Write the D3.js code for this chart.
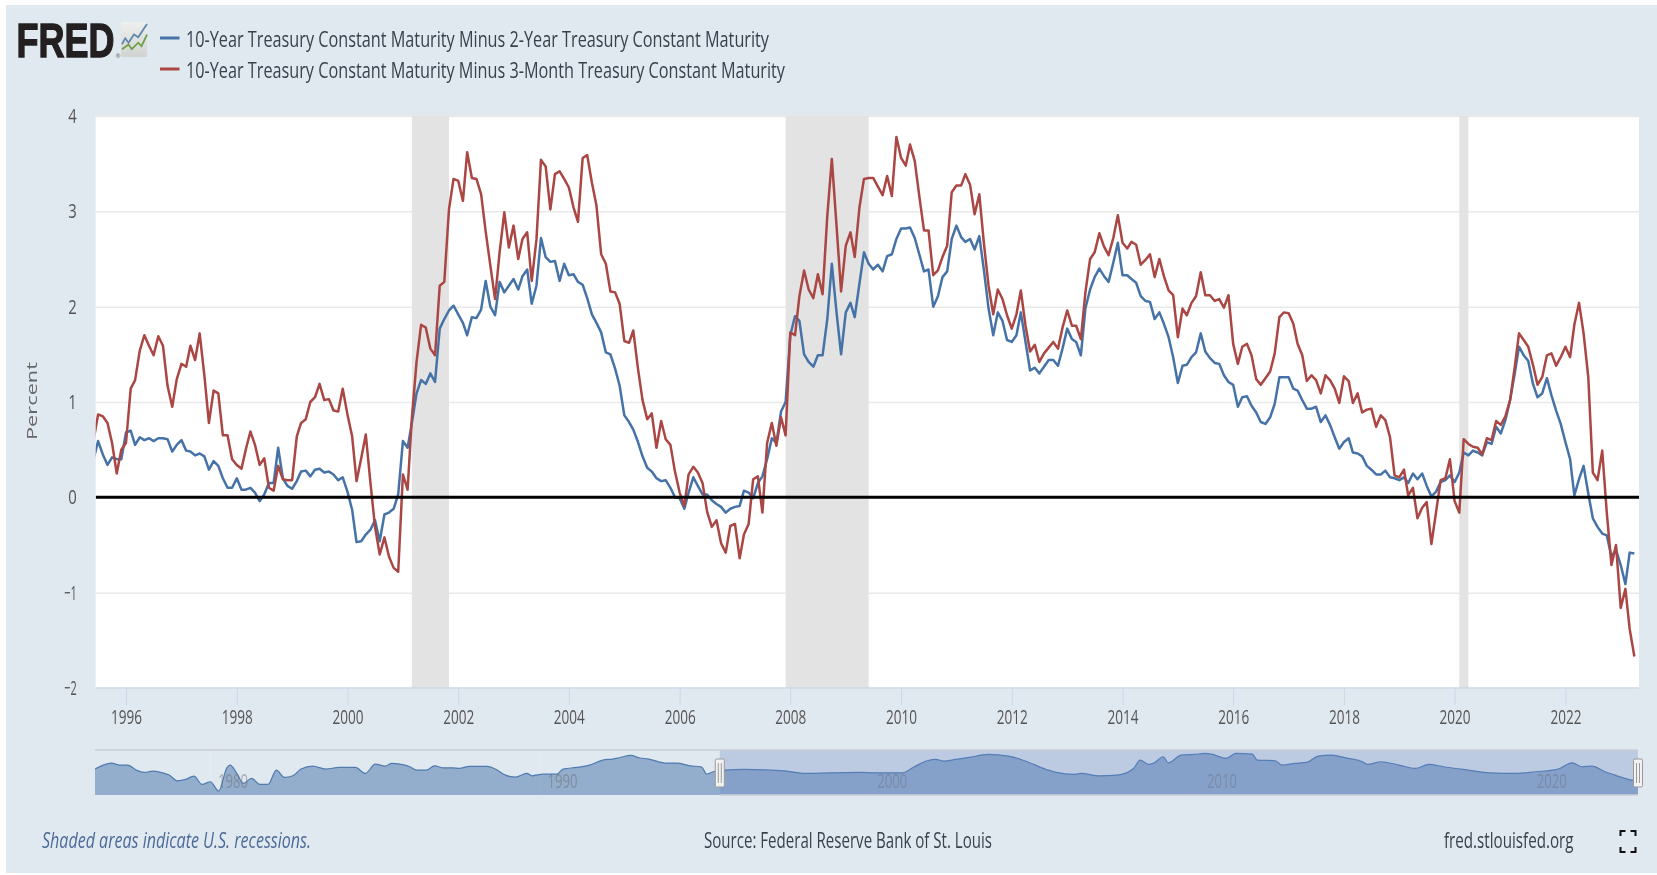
<!DOCTYPE html>
<html lang="en">
<head>
<title>FRED - 10-Year Treasury spreads</title>
<meta charset="utf-8">
<script src="https://d3js.org/d3.v7.min.js"></script>
<style type="text/css">
  html, body { margin: 0; padding: 0; background: #fff; overflow: hidden; }
  text { font-family: 'Open Sans', sans-serif; }
  /* the reference is a soft, upscaled screenshot */
  svg { filter: blur(.45px); }
</style>
</head>
<body>
<div id="chart"></div>
<script>

/* Data */
/* ========================== */

// Monthly, June 1995 to April 2023. One row per calendar year
var spread2y = [
  .40,.59,.45,.34,.42,.40,.40,
  .68,.70,.55,.63,.60,.62,.59,.62,.62,.61,.48,.55,
  .60,.49,.48,.44,.46,.43,.29,.38,.33,.20,.10,.10,
  .20,.08,.08,.10,.05,-.04,.03,.15,.15,.52,.20,.12,
  .09,.17,.27,.28,.22,.29,.30,.26,.27,.24,.18,.21,
  .06,-.13,-.47,-.46,-.39,-.34,-.24,-.46,-.18,-.16,-.12,.03,
  .59,.52,.78,1.09,1.23,1.19,1.30,1.21,1.77,1.87,1.96,2.01,
  1.92,1.83,1.70,1.89,1.88,1.97,2.27,2.00,1.91,2.26,2.15,2.22,
  2.29,2.18,2.32,2.39,2.03,2.22,2.72,2.52,2.47,2.48,2.27,2.45,
  2.33,2.34,2.26,2.23,2.09,1.92,1.83,1.73,1.52,1.50,1.35,1.17,
  .86,.79,.71,.58,.43,.31,.27,.20,.17,.18,.10,.00,
  -.01,-.12,.05,.21,.12,.03,.03,-.03,-.07,-.10,-.16,-.12,
  -.10,-.09,.07,.05,-.01,.15,.22,.40,.62,.57,.90,1.00,
  1.70,1.90,1.85,1.50,1.42,1.37,1.49,1.49,1.87,2.45,1.94,1.50,
  1.94,2.04,1.89,2.24,2.57,2.45,2.39,2.44,2.37,2.53,2.55,2.71,
  2.82,2.82,2.83,2.72,2.55,2.37,2.39,2.00,2.11,2.31,2.37,2.71,
  2.85,2.73,2.68,2.71,2.60,2.74,2.39,1.98,1.70,1.94,1.85,1.65,
  1.63,1.70,1.94,1.63,1.33,1.36,1.30,1.37,1.44,1.44,1.38,1.56,
  1.77,1.66,1.63,1.49,1.98,2.18,2.31,2.40,2.32,2.26,2.46,2.67,
  2.33,2.33,2.29,2.25,2.11,2.06,2.05,1.87,1.94,1.82,1.68,1.47,
  1.20,1.38,1.39,1.47,1.52,1.72,1.53,1.46,1.41,1.40,1.28,1.21,
  1.18,.95,1.05,1.06,.96,.89,.79,.77,.84,.98,1.26,1.26,
  1.26,1.14,1.12,1.02,.93,.93,.95,.79,.86,.76,.63,.51,
  .58,.62,.47,.46,.43,.33,.29,.24,.24,.28,.21,.20,
  .18,.21,.15,.25,.19,.25,.12,.01,.06,.16,.18,.23,
  .16,.26,.47,.44,.49,.47,.44,.58,.56,.74,.67,.81,
  1.02,1.30,1.58,1.49,1.43,1.19,1.05,1.09,1.25,1.07,.91,.77,
  .58,.40,.02,.19,.33,.04,-.22,-.31,-.38,-.40,-.62,-.55,
  -.71,-.91,-.58,-.59
];

var spread3m = [
  .60,.87,.85,.78,.57,.25,.50,
  .57,1.14,1.23,1.54,1.70,1.59,1.49,1.69,1.59,1.17,.95,1.24,
  1.40,1.37,1.59,1.44,1.72,1.28,.78,1.12,1.09,.65,.65,.40,
  .34,.30,.50,.69,.55,.34,.41,.10,.07,.33,.19,.18,
  .18,.64,.78,.82,1.00,1.05,1.19,1.02,1.03,.91,.90,1.14,
  .87,.64,.17,.41,.66,.15,-.31,-.60,-.42,-.62,-.74,-.78,
  .24,.08,.83,1.42,1.81,1.78,1.56,1.49,2.22,2.26,3.02,3.34,
  3.32,3.11,3.62,3.35,3.34,3.18,2.79,2.43,2.08,2.57,2.99,2.62,
  2.85,2.50,2.71,2.78,2.27,2.70,3.54,3.47,3.02,3.39,3.42,3.34,
  3.25,3.04,2.89,3.56,3.59,3.30,3.06,2.55,2.45,2.16,2.15,2.03,
  1.64,1.62,1.75,1.35,1.02,.82,.88,.52,.80,.61,.55,.27,
  .05,-.09,.24,.32,.26,.15,-.15,-.31,-.24,-.48,-.58,-.30,
  -.28,-.64,-.39,-.28,.19,.22,-.16,.57,.78,.54,.84,.65,
  1.73,1.70,2.11,2.38,2.18,2.09,2.34,2.13,2.95,3.55,2.85,2.16,
  2.64,2.78,2.52,3.04,3.34,3.35,3.35,3.26,3.17,3.37,3.16,3.78,
  3.56,3.48,3.70,3.53,3.16,2.80,2.80,2.33,2.38,2.52,2.64,3.20,
  3.27,3.27,3.39,3.28,2.97,3.18,2.67,2.22,1.92,2.18,2.08,1.91,
  1.77,1.92,2.17,1.80,1.53,1.60,1.42,1.51,1.57,1.63,1.56,1.78,
  1.96,1.80,1.80,1.66,2.15,2.50,2.57,2.77,2.63,2.54,2.72,2.96,
  2.67,2.61,2.68,2.65,2.44,2.49,2.55,2.31,2.50,2.32,2.17,2.12,
  1.68,1.98,1.91,2.04,2.11,2.36,2.12,2.12,2.06,2.08,1.99,2.12,
  1.61,1.40,1.58,1.61,1.49,1.24,1.18,1.25,1.32,1.51,1.89,1.94,
  1.93,1.82,1.61,1.49,1.22,1.28,1.23,1.09,1.28,1.23,1.14,.99,
  1.27,1.22,.99,1.09,.89,.92,.93,.74,.86,.81,.63,.23,
  .21,.29,.02,.10,-.22,-.11,-.05,-.49,-.15,.18,.20,.40,
  -.04,-.16,.61,.56,.53,.52,.45,.62,.60,.80,.76,.85,
  1.02,1.37,1.72,1.65,1.58,1.39,1.18,1.26,1.49,1.51,1.38,1.47,
  1.58,1.47,1.81,2.04,1.72,1.26,.26,.18,.49,-.16,-.71,-.50,
  -1.16,-.96,-1.38,-1.67
];

// Navigator series, coarser than the main lines, read at irregular dates (decimal years)
var navYears = [
  1976.5,1976.75,1977,1977.25,1977.5,1977.75,1978,1978.25,1978.5,1978.75,
  1979,1979.25,1979.5,1979.75,1980,1980.25,1980.5,1980.6,1980.8,1981,
  1981.25,1981.5,1981.75,1982,1982.25,1982.5,1982.75,1983.1,1983.5,1983.9,
  1984.4,1984.7,1985,1985.3,1985.5,1985.9,1986.05,1986.25,1986.55,1986.8,
  1987.05,1987.35,1987.55,1987.85,1988.4,1988.7,1988.95,1989.25,1989.6,1989.75,
  1990.1,1990.5,1990.7,1991.1,1991.5,1991.9,1992.2,1992.4,1992.75,1993,
  1993.3,1993.8,1994.15,1994.55,1994.9,1995.05,1995.25,
  1995.6,1996.18,1997.4,1998.05,1998.8,1999.75,2000.15,2001,2001.35,2001.75,
  2002,2002.25,2002.6,2003,2003.6,2004.2,2004.7,2005.35,2005.65,2006.2,
  2006.4,2006.95,2007.5,2008,2008.2,2008.45,2008.6,2008.9,2009.05,2009.45,
  2009.85,2010.15,2010.4,2010.8,2011.1,2011.6,2011.75,2012.3,2012.5,2012.9,
  2013.25,2013.6,2014,2014.5,2014.95,2015.1,2015.5,2016.05,2016.55,2016.95,
  2017.4,2018,2018.8,2019.6,2020.2,2020.85,2021.3,2021.6,2021.9,2022.3,
  2022.6,2023.1,2023.3
];
var navValues = [
  .80,1.30,1.55,1.30,1.30,.67,.37,.54,.37,.04,
  -.68,-.51,-.09,-1.14,-.80,-1.98,.96,1.30,.25,-1.01,
  -.38,-1.14,-1.14,.67,-.26,-.05,.80,1.17,.80,1.00,
  1.00,.25,1.43,1.17,1.51,1.30,1.09,.67,.67,1.21,
  .96,.96,.88,1.13,1.13,.67,.04,-.21,.25,-.05,
  .16,.16,.79,1.00,1.30,1.93,2.06,2.22,2.52,2.22,
  2.06,1.55,1.55,1.21,1.05,.16,.46,
  .67,.75,.58,.25,.33,.37,.33,.33,1.09,1.84,
  2.01,1.80,2.01,2.26,2.64,2.43,1.84,.75,.37,.12,
  .25,-.05,.04,.88,1.93,1.38,1.51,2.35,1.59,2.56,
  2.64,2.77,2.64,2.14,2.77,2.68,1.93,1.84,1.30,1.51,
  1.63,2.43,2.56,2.14,1.72,1.38,1.72,1.30,.88,1.38,
  1.09,.75,.33,.25,.46,.75,1.59,1.09,1.17,.46,
  .04,-.59,-.68
];

var recessions = [
  ['2001-03-01', '2001-11-01'],
  ['2007-12-01', '2009-06-01'],
  ['2020-02-01', '2020-04-01']
];

var xTickYears = [1996, 1998, 2000, 2002, 2004, 2006, 2008, 2010, 2012, 2014, 2016, 2018, 2020, 2022];
var yTicks = [-2, -1, 0, 1, 2, 3, 4];
var navTickYears = [1980, 1990, 2000, 2010, 2020];
var legendLabels = [
  '10-Year Treasury Constant Maturity Minus 2-Year Treasury Constant Maturity',
  '10-Year Treasury Constant Maturity Minus 3-Month Treasury Constant Maturity'
];
var seriesColors = ['#4572a7', '#aa4643'];

// Small chart marks inside the logo icon
var logoBlue = [[0, 6.2], [1.3, 4.5], [2.6, 5.8], [4.8, 3.4], [6.5, 4.2], [10, .3]];
var logoGreen = [[0, 7.7], [2.6, 6.3], [3.9, 7.7], [6.5, 5.8], [7.8, 6.8], [10, 3.4]];


/* Set up svg and scales */
/* ===================== */

var width = 1657,
    height = 875,
    plot = { left: 95.7, right: 1639, top: 116, bottom: 688 },
    nav = { left: 95, right: 1638, top: 750, bottom: 795 };

var months = d3.utcMonth.range(Date.UTC(1995, 5, 1), Date.UTC(2023, 4, 1));

var svg = d3.select('#chart').append('svg')
    .attr('width', width)
    .attr('height', height)
    .style('display', 'block');

// Anchored on the 1996 and 2022 ticks, the plot edges then clip the line
var x = d3.scaleUtc()
    .domain([Date.UTC(1996, 0, 1), Date.UTC(2022, 0, 1)])
    .range([126, 1565.4]);

var y = d3.scaleLinear()
    .domain([-2, 4])
    .range([plot.bottom, plot.top]);

var navX = d3.scaleLinear()
    .domain([1976.5, 2023.3])
    .range([nav.left, nav.right]);

var navY = d3.scaleLinear()
    .domain([-2.47, 3.2])
    .range([nav.bottom, nav.top]);

// Squeezes text into the narrow look of the reference
function label(parent, px, py, text, length, size, color, anchor) {
  return parent.append('text')
      .attr('x', px)
      .attr('y', py)
      .attr('dy', '.35em')
      .attr('text-anchor', anchor || 'start')
      .attr('textLength', length)
      .attr('lengthAdjust', 'spacingAndGlyphs')
      .attr('font-size', size)
      .attr('fill', color)
      .text(text);
}


/* Background and clip */
/* =================== */

svg.append('rect')
    .attr('x', 6).attr('y', 5)
    .attr('width', width - 6).attr('height', 868)
    .attr('fill', '#e1e9f0');

svg.append('rect')
    .attr('x', plot.left).attr('y', plot.top)
    .attr('width', plot.right - plot.left).attr('height', plot.bottom - plot.top)
    .attr('fill', '#fff');

svg.append('clipPath').attr('id', 'plot-clip').append('rect')
    .attr('x', plot.left).attr('y', plot.top)
    .attr('width', plot.right - plot.left).attr('height', plot.bottom - plot.top);

svg.append('clipPath').attr('id', 'nav-clip').append('rect')
    .attr('x', nav.left).attr('y', nav.top)
    .attr('width', nav.right - nav.left).attr('height', nav.bottom - nav.top);


/* Logo and legend */
/* =============== */

// Scaled, not textLength: the logo letters are narrower than the font
svg.append('text')
    .attr('transform', 'translate(16.5,56.5) scale(.75,1)')
    .attr('font-size', 48)
    .attr('font-weight', 700)
    .style('font-family', "'Liberation Sans', sans-serif")
    .attr('fill', '#231f20')
    .attr('stroke', '#231f20')
    .attr('stroke-width', 1.4)
    .text('FRED');

svg.append('text')
    .attr('x', 115.5).attr('y', 58)
    .attr('font-size', 6)
    .attr('fill', '#666')
    .text('®');

var logoGradient = svg.append('linearGradient')
    .attr('id', 'logo-bg')
    .attr('x1', 0).attr('y1', 0).attr('x2', 0).attr('y2', 1);
logoGradient.append('stop').attr('offset', 0).attr('stop-color', '#eef0ee');
logoGradient.append('stop').attr('offset', 1).attr('stop-color', '#d0d3cf');

svg.append('rect')
    .attr('x', 121).attr('y', 22)
    .attr('width', 26).attr('height', 35)
    .attr('fill', 'url(#logo-bg)');

var logoX = d3.scaleLinear().domain([0, 10]).range([122, 147]);
var logoY = d3.scaleLinear().domain([0, 10]).range([23, 57]);
var logoLine = d3.line().x(function(d) { return logoX(d[0]); }).y(function(d) { return logoY(d[1]); });

[[logoBlue, '#5f86ad'], [logoGreen, '#6f9f4a']].forEach(function(d) {
  svg.append('path')
      .attr('d', logoLine(d[0]))
      .attr('fill', 'none')
      .attr('stroke', d[1])
      .attr('stroke-width', 1.8);
});

var legendY = [39.5, 70.5],
    legendWidth = [583, 599];

legendLabels.forEach(function(text, i) {
  svg.append('line')
      .attr('x1', 160).attr('x2', 179.5)
      .attr('y1', legendY[i] - 1.5).attr('y2', legendY[i] - 1.5)
      .attr('stroke', seriesColors[i])
      .attr('stroke-width', 3);
  label(svg, 186, legendY[i], text, legendWidth[i], 22, '#37424c');
});


/* Grid and recession bands */
/* ======================== */

svg.append('g')
    .attr('transform', 'translate(' + plot.left + ',0)')
    .call(d3.axisLeft(y).tickValues(yTicks).tickSize(plot.left - plot.right).tickFormat(''))
    .call(function(g) { g.select('.domain').remove(); })
    .selectAll('line')
    .attr('stroke', '#e9e9e9')
    .attr('stroke-width', 1.5);

svg.append('g')
    .selectAll('rect')
    .data(recessions)
    .join('rect')
    .attr('x', function(d) { return x(new Date(d[0])); })
    .attr('y', plot.top)
    .attr('width', function(d) { return x(new Date(d[1])) - x(new Date(d[0])); })
    .attr('height', plot.bottom - plot.top)
    .attr('fill', '#e3e3e3');


/* Axes */
/* ==== */

var xAxis = svg.append('g')
    .attr('transform', 'translate(0,' + plot.bottom + ')')
    .call(d3.axisBottom(x)
      .tickValues(xTickYears.map(function(d) { return new Date(Date.UTC(d, 0, 1)); }))
      .tickSize(17)
      .tickSizeOuter(0)
      .tickPadding(5)
      .tickFormat(d3.utcFormat('%Y')));

xAxis.select('.domain')
    .attr('stroke', '#ccd6eb')
    .attr('stroke-width', 1.5)
    .attr('d', 'M' + plot.left + ',0H' + plot.right);
xAxis.selectAll('line').attr('stroke', '#ccd6eb');
xAxis.selectAll('text')
    .attr('font-size', 20)
    .attr('fill', '#555')
    .attr('textLength', 31)
    .attr('lengthAdjust', 'spacingAndGlyphs')
    .style('font-family', "'Open Sans', sans-serif");

var yAxis = svg.append('g')
    .attr('transform', 'translate(' + plot.left + ',0)')
    .call(d3.axisLeft(y).tickValues(yTicks).tickSize(0).tickPadding(19).tickFormat(d3.format('d')));

yAxis.select('.domain').remove();
yAxis.selectAll('text')
    .attr('font-size', 20)
    .attr('fill', '#555')
    .attr('textLength', function(d) { return d < 0 ? 12.5 : 8.5; })
    .attr('lengthAdjust', 'spacingAndGlyphs')
    .style('font-family', "'Open Sans', sans-serif");

svg.append('text')
    .attr('transform', 'translate(32,401) rotate(-90)')
    .attr('dy', '.35em')
    .attr('text-anchor', 'middle')
    .attr('textLength', 78)
    .attr('lengthAdjust', 'spacingAndGlyphs')
    .attr('font-size', 14.5)
    .attr('fill', '#666')
    .text('Percent');


/* Series */
/* ====== */

var line = d3.line()
    .x(function(d, i) { return x(months[i]); })
    .y(function(d) { return y(d); });

var lines = svg.append('g').attr('clip-path', 'url(#plot-clip)');

[spread2y, spread3m].forEach(function(values, i) {
  lines.append('path')
      .attr('d', line(values))
      .attr('fill', 'none')
      .attr('stroke', seriesColors[i])
      .attr('stroke-width', 2.5)
      .attr('stroke-linejoin', 'round');
});

lines.append('line')
    .attr('x1', plot.left).attr('x2', plot.right)
    .attr('y1', y(0)).attr('y2', y(0))
    .attr('stroke', '#000')
    .attr('stroke-width', 3);


/* Navigator */
/* ========= */

var navSeries = navYears.map(function(d, i) { return [d, navValues[i]]; });

var navGroup = svg.append('g');

navGroup.selectAll('.nav-grid')
    .data(navTickYears)
    .join('line')
    .attr('class', 'nav-grid')
    .attr('x1', function(d) { return navX(d); })
    .attr('x2', function(d) { return navX(d); })
    .attr('y1', nav.top).attr('y2', nav.bottom)
    .attr('stroke', '#e6ebf2');

navGroup.append('path')
    .datum(navSeries)
    .attr('clip-path', 'url(#nav-clip)')
    .attr('fill', 'rgba(69,114,167,.5)')
    .attr('d', d3.area()
      .curve(d3.curveMonotoneX)
      .x(function(d) { return navX(d[0]); })
      .y0(nav.bottom)
      .y1(function(d) { return navY(d[1]); }));

navGroup.append('path')
    .datum(navSeries)
    .attr('clip-path', 'url(#nav-clip)')
    .attr('fill', 'none')
    .attr('stroke', '#4f7bb0')
    .attr('stroke-width', 1.2)
    .attr('d', d3.line()
      .curve(d3.curveMonotoneX)
      .x(function(d) { return navX(d[0]); })
      .y(function(d) { return navY(d[1]); }));

navTickYears.forEach(function(d) {
  label(navGroup, navX(d) + 22.5, 781, d3.format('d')(d), 30, 20, 'rgba(110,110,110,.5)', 'middle');
});

var selStart = navX(1995.45),
    selEnd = navX(2023.3);

navGroup.append('rect')
    .attr('x', selStart).attr('y', nav.top)
    .attr('width', selEnd - selStart).attr('height', nav.bottom - nav.top)
    .attr('fill', 'rgba(102,133,194,.3)');

[[nav.top, nav.left, nav.right], [nav.bottom, selStart, nav.right]].forEach(function(d) {
  navGroup.append('line')
      .attr('x1', d[1]).attr('x2', d[2])
      .attr('y1', d[0]).attr('y2', d[0])
      .attr('stroke', '#c9ced4')
      .attr('stroke-width', 1.5);
});

[selStart, selEnd].forEach(function(d) {
  navGroup.append('rect')
      .attr('x', d - 4.5).attr('y', 759)
      .attr('width', 9).attr('height', 28)
      .attr('rx', 1.5)
      .attr('fill', '#f2f2f2')
      .attr('stroke', '#999');
  [-1.5, 1.5].forEach(function(o) {
    navGroup.append('line')
        .attr('x1', d + o).attr('x2', d + o)
        .attr('y1', 763).attr('y2', 783)
        .attr('stroke', '#999');
  });
});


/* Footer */
/* ====== */

label(svg, 42, 841, 'Shaded areas indicate U.S. recessions.', 269, 21, '#4b6a99')
    .attr('font-style', 'italic');
label(svg, 704, 841, 'Source: Federal Reserve Bank of St. Louis', 288, 21, '#37424c');
label(svg, 1444, 841, 'fred.stlouisfed.org', 129.5, 21, '#37424c');

// Fullscreen icon, four corners
var corner = 5;
[[1620.5, 831, 1, 1], [1635.5, 831, -1, 1], [1620.5, 852, 1, -1], [1635.5, 852, -1, -1]].forEach(function(d) {
  svg.append('path')
      .attr('d', 'M' + d[0] + ',' + (d[1] + d[3] * corner) + 'V' + d[1] + 'H' + (d[0] + d[2] * corner))
      .attr('fill', 'none')
      .attr('stroke', '#111')
      .attr('stroke-width', 2);
});

</script>
</body>
</html>
